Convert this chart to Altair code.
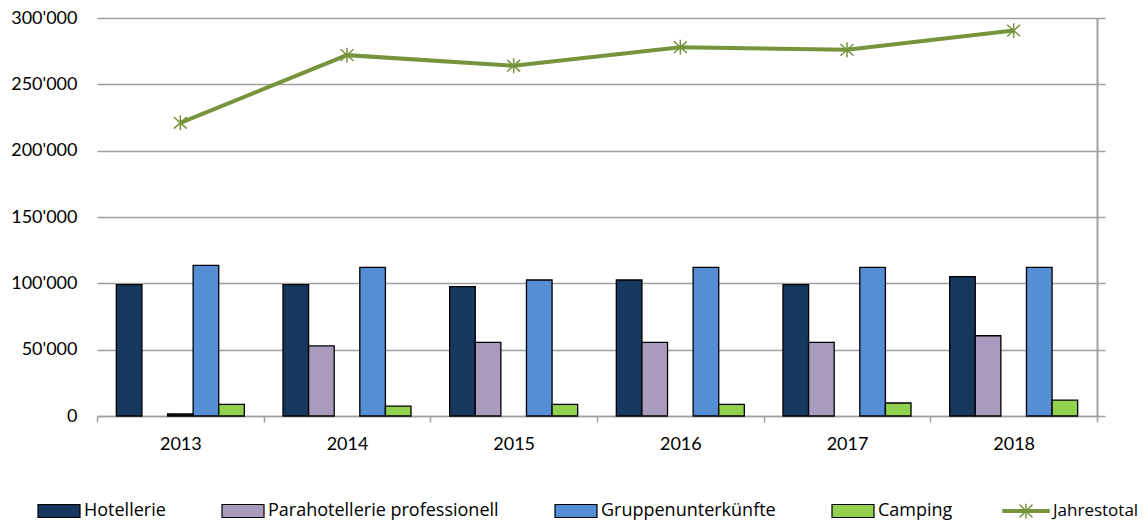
import altair as alt
import pandas as pd

years = ["2013", "2014", "2015", "2016", "2017", "2018"]
hotellerie = [99000, 99000, 97500, 102500, 99000, 105000]
parahotellerie = [None, 52800, 55500, 55500, 55500, 60500]
uebrige = [1500, None, None, None, None, None]
gruppen = [113500, 112000, 102500, 112000, 112000, 112000]
camping = [8700, 7500, 8700, 8700, 9800, 12000]
jahrestotal = [221000, 272000, 264000, 278000, 276000, 290500]

series_names = ["Hotellerie", "Parahotellerie professionell", "Übrige",
                "Gruppenunterkünfte", "Camping"]
legend_names = ["Hotellerie", "Parahotellerie professionell",
                "Gruppenunterkünfte", "Camping"]
series_colors = ["#17375E", "#A99BBD", "#262626", "#558ED5", "#92D050"]
line_color = "#77933C"

FONT = "Lato"
LEGEND_FONT = "Open Sans"
GRAY = "#A0A0A0"

rows = []
for name, vals in zip(series_names, [hotellerie, parahotellerie, uebrige, gruppen, camping]):
    for y, v in zip(years, vals):
        if v is not None:
            rows.append({"year": y, "series": name, "value": v})
bars_df = pd.DataFrame(rows)
total_df = pd.DataFrame({"year": years, "total": jahrestotal, "label": ["Jahrestotal"] * len(years)})

x_enc = alt.X(
    "year:N",
    scale=alt.Scale(paddingInner=0, paddingOuter=0),
    axis=alt.Axis(title=None, tickBand="extent", ticks=True, tickSize=6,
                  tickColor=GRAY, tickWidth=1.5, domainColor=GRAY, domainWidth=1.5,
                  labelFont=FONT, labelFontSize=18, labelColor="#000000",
                  labelPadding=13, labelAngle=0),
)

y_scale = alt.Scale(domain=[0, 300000], nice=False, zero=True)

bars = alt.Chart(bars_df).mark_bar(stroke="black", strokeWidth=1.3).encode(
    x=x_enc,
    xOffset=alt.XOffset("series:N", sort=series_names,
                        scale=alt.Scale(domain=series_names, paddingInner=0, paddingOuter=0.755)),
    y=alt.Y("value:Q", scale=y_scale,
            axis=alt.Axis(title=None, values=[0, 50000, 100000, 150000, 200000, 250000, 300000],
                          labelExpr="datum.value == 0 ? '0' : floor(datum.value / 1000) + \"'000\"",
                          ticks=False, domain=False, grid=True, gridColor=GRAY, gridWidth=1.5,
                          labelFont=FONT, labelFontSize=18, labelColor="#000000", labelPadding=20)),
    fill=alt.Fill("series:N",
                  scale=alt.Scale(domain=series_names, range=series_colors),
                  legend=alt.Legend(values=legend_names, title=None, orient="none",
                                    legendX=-60, legendY=471, direction="horizontal",
                                    columns=4, columnPadding=53, padding=0,
                                    symbolType="M-1,-0.31L1,-0.31L1,0.31L-1,0.31Z",
                                    symbolSize=1764, symbolStrokeColor="black",
                                    symbolStrokeWidth=1.2, labelOffset=3,
                                    labelFont=LEGEND_FONT, labelFontSize=18, labelColor="#000000",
                                    labelLimit=400)),
)

line = alt.Chart(total_df).mark_line(strokeWidth=4).encode(
    x=alt.X("year:N"),
    y=alt.Y("total:Q", scale=y_scale,
            axis=alt.Axis(orient="right", title=None, labels=False, ticks=True, tickSize=8,
                          tickColor=GRAY, tickWidth=1.5, grid=False, domainColor=GRAY,
                          domainWidth=2, values=[0, 50000, 100000, 150000, 200000, 250000, 300000])),
    stroke=alt.Stroke("label:N",
                      scale=alt.Scale(domain=["Jahrestotal"], range=[line_color]),
                      legend=alt.Legend(title=None, orient="none", legendX=905, legendY=469,
                                        padding=0,
                                        symbolType="M-1,-0.05L1,-0.05L1,0.05L-1,0.05Z M-0.28,-0.28L0.28,0.28 M-0.28,0.28L0.28,-0.28 M0,-0.32L0,0.32",
                                        symbolSize=2116, symbolStrokeWidth=1.5,
                                        symbolFillColor=line_color, labelOffset=3,
                                        labelFont=LEGEND_FONT, labelFontSize=17, labelColor="#000000")),
)

points = alt.Chart(total_df).mark_point(
    shape="M-1,-0.9L1,0.9M-1,0.9L1,-0.9M0,-1.15L0,1.15",
    size=169, filled=False, strokeWidth=1.5, color=line_color, opacity=1,
).encode(
    x=alt.X("year:N"),
    y=alt.Y("total:Q", scale=y_scale),
)

chart = alt.layer(bars, alt.layer(line, points)).resolve_scale(y="independent").properties(
    width=1000, height=398,
    padding={"left": 2, "top": 1, "right": 0, "bottom": 0},
    background="white",
).configure_view(stroke=None)

chart.save("out.html", embed_options={"renderer": "svg", "actions": False})
